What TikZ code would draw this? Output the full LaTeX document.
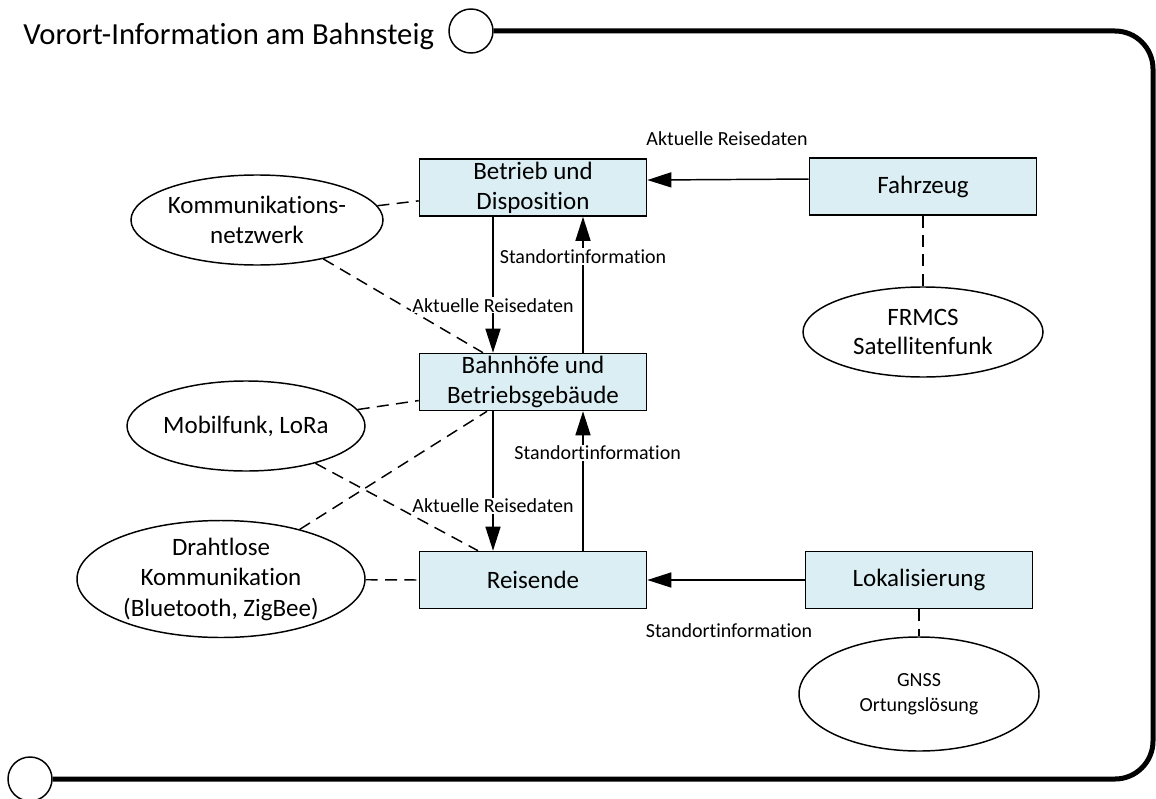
\documentclass[tikz,border=0pt]{standalone}
\usepackage{fontspec}
\setmainfont{Carlito}[Ligatures=NoCommon]
\usetikzlibrary{arrows.meta,shapes.geometric}
\definecolor{boxfill}{HTML}{DAEEF3}
\begin{document}
\begin{tikzpicture}[x=0.75pt,y=-0.75pt,
  unit/.style={draw=black, line width=1.2pt, fill=boxfill, minimum width=170.25pt,
    minimum height=42.75pt, inner sep=0pt, align=center,
    font=\fontsize{18.75}{22.5}\selectfont},
  medium/.style={ellipse, draw=black, line width=1.1pt, fill=white, inner sep=0pt,
    align=center, font=\fontsize{18.75}{23}\selectfont},
  flow/.style={draw=black, line width=1.1pt, -{Triangle[length=18pt,width=11.25pt]}},
  link/.style={draw=black, line width=1.1pt, dash pattern=on 9pt off 5.5pt},
  flowlabel/.style={fill=white, inner sep=1pt, font=\fontsize{15}{18}\selectfont},
  freelabel/.style={inner sep=1pt, font=\fontsize{15}{18}\selectfont},
  frame/.style={draw=black, line width=3.75pt},
  knob/.style={circle, draw=black, line width=1.1pt, fill=white, minimum size=33pt, inner sep=0pt}
]
\useasboundingbox (0,0) rectangle (1156,799);
\fill[white] (0,0) rectangle (1156,799);

% frame with its two end knobs
\node[knob] (topknob) at (471,31) {};
\node[knob] (botknob) at (30,779) {};
\draw[frame, rounded corners=28.5pt] (topknob.east) -- (1153,31) -- (1153,779) -- (botknob.east);

% heading
\node[anchor=base west, inner sep=0pt, font=\fontsize{23}{27}\selectfont] (title) at (23,45)
  {Vorort-Information am Bahnsteig};

% system blocks
\node[unit] (ops) at (533,187.5) {Betrieb und\\Disposition};
\node[unit] (veh) at (923,186.5) {Fahrzeug};
\node[unit] (stn) at (533,382) {Bahnhöfe und\\Betriebsgebäude};
\node[unit] (pax) at (533,580) {Reisende};
\node[unit] (loc) at (919,580) {Lokalisierung};

% transmission media
\node[medium, minimum width=178.5pt, minimum height=67.5pt] (net) at (257,220)
  {Kommunikations-\\netzwerk};
\node[medium, minimum width=178.5pt, minimum height=67.5pt] (mob) at (246,426)
  {Mobilfunk, LoRa};
\node[medium, minimum width=216pt, minimum height=81pt,
  font=\fontsize{18.75}{22.9}\selectfont] (wl) at (221,579)
  {Drahtlose\\Kommunikation\\(Bluetooth, ZigBee)};
\node[medium, minimum width=180pt, minimum height=67.5pt,
  font=\fontsize{18.75}{21.75}\selectfont] (rad) at (923,332)
  {FRMCS\\Satellitenfunk};
\node[medium, minimum width=180pt, minimum height=85.5pt,
  font=\fontsize{15}{18.75}\selectfont] (gnss) at (919,694)
  {GNSS\\Ortungslösung};

% media links
\draw[link] (net) -- ([yshift=-10pt]ops.west);
\draw[link] (net) -- ([xshift=-37.5pt]stn.north);
\draw[link] (mob) -- ([yshift=-13.9pt]stn.west);
\draw[link] (mob) -- ([xshift=-41.25pt]pax.north);
\draw[link] (wl) -- ([xshift=-34.5pt]stn.south);
\draw[link] (wl) -- (pax.west);
\draw[link] (veh) -- (rad);
\draw[link] (loc) -- (gnss);

% information flows
\draw[flow] ([yshift=5.6pt]veh.west) -- ([yshift=5.6pt]ops.east);
\node[freelabel] (lblA) at (727,139) {Aktuelle Reisedaten};

\draw[flow] ([xshift=-30pt]ops.south) --
  node[flowlabel, pos=0.65] (lblB) {Aktuelle Reisedaten} ([xshift=-30pt]stn.north);
\draw[flow] ([xshift=37.5pt]stn.north) --
  node[flowlabel, pos=0.71] (lblC) {Standortinformation} ([xshift=37.5pt]ops.south);

\draw[flow] ([xshift=-30pt]stn.south) --
  node[flowlabel, pos=0.68] (lblD) {Aktuelle Reisedaten} ([xshift=-30pt]pax.north);
\draw[flow] ([xshift=37.5pt]pax.north) --
  node[flowlabel, pos=0.70, xshift=11pt] (lblE) {Standortinformation} ([xshift=37.5pt]stn.south);

\draw[flow] (loc.west) -- (pax.east);
\node[freelabel] (lblF) at (729,631) {Standortinformation};
\end{tikzpicture}
\end{document}
